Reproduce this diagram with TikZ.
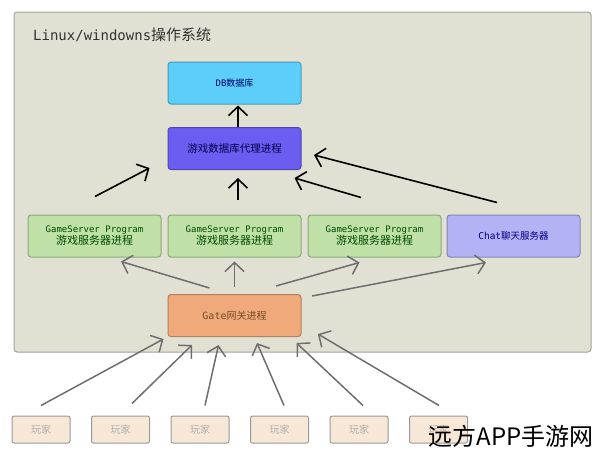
\documentclass[tikz,border=0pt]{standalone}
\usepackage{fontspec}
\setmainfont{DejaVu Sans Mono}
\newfontfamily\cjk{Noto Sans CJK SC}
\usetikzlibrary{arrows.meta,calc}
\definecolor{panelfill}{HTML}{E1E1D3}
\definecolor{paneldraw}{HTML}{A3A399}
\definecolor{dbfill}{HTML}{5DCDFA}
\definecolor{proxyfill}{HTML}{6A5DEF}
\definecolor{gsfill}{HTML}{BFE0A7}
\definecolor{chatfill}{HTML}{B2B2F5}
\definecolor{gatefill}{HTML}{F0A97A}
\definecolor{playerfill}{HTML}{F6E7D6}
\definecolor{arrgray}{HTML}{6E6E6E}
\begin{document}
\begin{tikzpicture}[x=1pt,y=-1pt,
    box/.style={draw=#1!75!black, fill=#1, line width=1pt, rounded corners=3pt,
        minimum width=133pt, minimum height=42pt, inner sep=0pt, align=center},
    player/.style={draw=black!40, fill=playerfill, line width=1pt, rounded corners=2pt,
        minimum width=58pt, minimum height=27pt, inner sep=0pt,
        text=playerfill!40!black!50, font=\cjk\fontsize{10}{12}\selectfont},
    blk/.style={draw=black, line width=1.6pt, -{Straight Barb[length=9pt,width=19pt]}},
    gry/.style={draw=arrgray, line width=1.5pt, -{Straight Barb[length=9pt,width=19pt]}}]
\useasboundingbox (0,0) rectangle (600,453);
% panel
\draw[draw=paneldraw, fill=panelfill, line width=1pt, rounded corners=3pt] (14,12) rectangle (591,352);
\node[anchor=west, inner sep=0pt, text=black!80] (title) at (33,35)
    {\fontsize{14}{16}\selectfont Linux/windowns{\cjk\fontsize{15}{16}\selectfont 操作系统}};
% boxes
\node[box=dbfill, text=blue!40!black, font=\fontsize{9}{11}\selectfont] (db) at (234.5,83) {DB{\cjk 数据库}};
\node[box=proxyfill, text=blue!30!black, font=\cjk\fontsize{10.5}{12}\selectfont] (proxy) at (234.5,148.5) {游戏数据库代理进程};
\foreach \i/\x in {1/94.5,2/234.5,3/374.5}
{
    \node[box=gsfill, text=green!30!black, font=\fontsize{9}{11}\selectfont] (gs\i) at (\x,236)
        {GameServer Program\\{\cjk\fontsize{11}{13}\selectfont 游戏服务器进程}};
}
\node[box=chatfill, text=blue!50!black, font=\fontsize{9.5}{11}\selectfont] (chat) at (513.5,236) {Chat{\cjk 聊天服务器}};
\node[box=gatefill, text=brown!60!black, font=\fontsize{10}{12}\selectfont] (gate) at (234.5,315.5) {Gate{\cjk 网关进程}};
\foreach \i in {1,...,6}
{
    \node[player] (p\i) at ({41+79.5*(\i-1)},429.5) {玩家};
}
% black arrows
\draw[blk] ($(proxy.north)+(3.5,0)$) -- ($(db.south)+(3.5,1)$);
\draw[blk] ($(gs1.north)+(0.5,-18)$) -- ($(proxy.south west)+(-18,-2)$);
\draw[blk] ($(gs2.north)+(3.5,-15)$) -- ($(proxy.south)+(3.5,8)$);
\draw[blk] ($(gs3.north)+(-13.5,-17)$) -- ($(proxy.south east)+(-7,8)$);
\draw[blk] ($(chat.north)+(-16.5,-12)$) -- ($(proxy.east)+(12.5,6.5)$);
% gray arrows
\draw[gry] ($(gate.north)+(-25,-6)$) -- ($(gs1.south)+(26.5,4)$);
\draw[gry] ($(gate.north)+(0,-7)$) -- ($(gs2.south)+(0,4)$);
\draw[gry] ($(gate.north)+(41.5,-8)$) -- ($(gs3.south)+(-15,5)$);
\draw[gry] ($(gate.north east)+(10.6,2)$) -- ($(chat.south)+(-27.5,5)$);
\draw[gry] ($(p1.north)+(0,-10)$) -- ($(gate.south west)+(-4,2)$);
\draw[gry] ($(p2.north)+(11.5,-12)$) -- ($(gate.south)+(-42.5,8)$);
\draw[gry] ($(p3.north)+(5,-10)$) -- ($(gate.south)+(-16,8)$);
\draw[gry] ($(p4.north)+(4.5,-10)$) -- ($(gate.south)+(22.5,6)$);
\draw[gry] ($(p5.north)+(4,-10)$) -- ($(gate.south east)+(-5,6)$);
\draw[gry] ($(p6.north)+(0.5,-10)$) -- ($(gate.south east)+(16.4,-3)$);
% watermark
\node[inner sep=0pt, text=black] (mark) at (511,436) {\cjk\fontsize{24}{26}\selectfont 远方APP手游网};
\end{tikzpicture}
\end{document}
